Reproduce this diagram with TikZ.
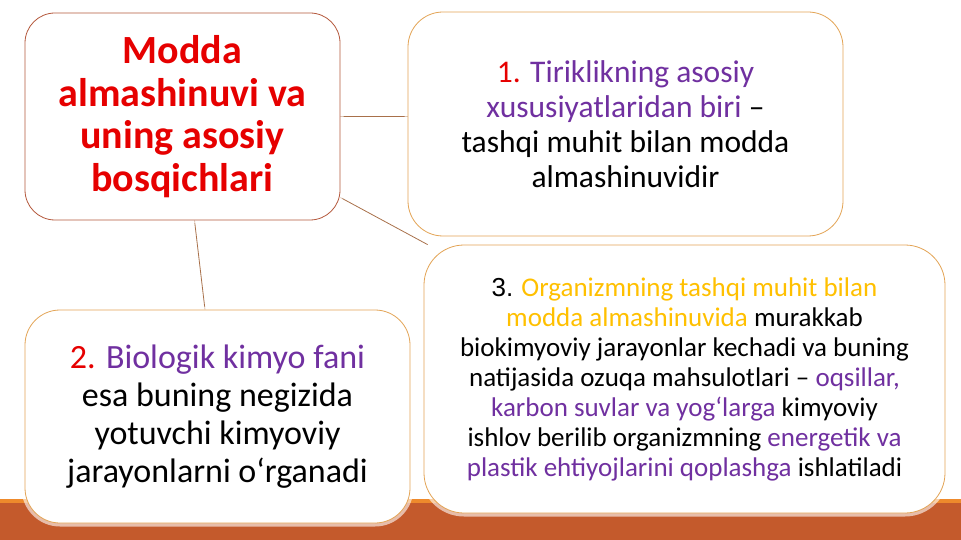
\documentclass[tikz,border=0pt]{standalone}
\usepackage{fontspec}
\setmainfont{Carlito}
\newfontfamily\arialfont{Liberation Sans}
\usetikzlibrary{backgrounds}

\definecolor{qizil}{HTML}{E60000}
\definecolor{binafsha}{HTML}{7030A0}
\definecolor{oltin}{HTML}{FFC000}
\definecolor{chiziq}{HTML}{E3A455}
\definecolor{jigar}{HTML}{B4583C}
\definecolor{lenta}{HTML}{C45A2C}
\definecolor{lentaoch}{HTML}{EE8A2C}
\definecolor{ulagich}{HTML}{A8704A}

\tikzset{
  karta/.style={draw=chiziq, fill=white, line width=0.8pt, inner sep=0pt, align=center,
    preaction={draw=white, line width=7pt, opacity=0.6}},
  ulash/.style={draw=ulagich, line width=0.8pt},
}

\begin{document}
\begin{tikzpicture}[x=1pt, y=-1pt]
    \useasboundingbox (0,0) rectangle (961,540);

    % Kartalar
    \node[karta, draw=jigar, rounded corners=30pt, minimum width=315pt, minimum height=207pt,
          text=qizil, font=\fontsize{40}{42.5}\selectfont\bfseries] (modda) at (182.5,116.5)
        {Modda\\almashinuvi va\\uning asosiy\\bosqichlari};

    \node[karta, rounded corners=35pt, minimum width=435pt, minimum height=224pt,
          font=\fontsize{31.5}{35}\selectfont] (tirik) at (625.5,124)
        {{\color{qizil}1.} {\color{binafsha}Tiriklikning asosiy}\\
         {\color{binafsha}xususiyatlaridan biri} –\\
         tashqi muhit bilan modda\\
         almashinuvidir};

    \node[karta, rounded corners=35pt, minimum width=385pt, minimum height=213pt,
          font=\fontsize{34}{38}\selectfont] (bio) at (217.5,416.5)
        {{\color{qizil}2.} {\color{binafsha}Biologik kimyo fani}\\
         esa buning negizida\\
         yotuvchi kimyoviy\\
         jarayonlarni o‘rganadi};

    \node[karta, rounded corners=40pt, minimum width=521pt, minimum height=268pt,
          font=\fontsize{27}{30}\selectfont] (org) at (684.5,379)
        {{\arialfont\fontsize{26}{30}\selectfont 3.} {\color{oltin}Organizmning tashqi muhit bilan}\\
         {\color{oltin}modda almashinuvida} murakkab\\
         biokimyoviy jarayonlar kechadi va buning\\
         natijasida ozuqa mahsulotlari – {\color{binafsha}oqsillar,}\\
         {\color{binafsha}karbon suvlar va yog‘larga} kimyoviy\\
         ishlov berilib organizmning {\color{binafsha}energetik va}\\
         {\color{binafsha}plastik ehtiyojlarini qoplashga} ishlatiladi};

    \begin{scope}[on background layer]
        % Pastki lenta
        \fill[lenta] (0,503) rectangle (961,540);
        \fill[lentaoch] (0,499) rectangle (961,503);

        % Ulagichlar
        \draw[ulash] (modda.east) -- (tirik.west |- modda.east);
        \draw[ulash] ([yshift=-81pt]modda.east) -- ([xshift=4pt]org.north west);
        \draw[ulash] ([xshift=12pt]modda.south) -- ([xshift=-12.5pt]bio.north);
    \end{scope}

\end{tikzpicture}
\end{document}
